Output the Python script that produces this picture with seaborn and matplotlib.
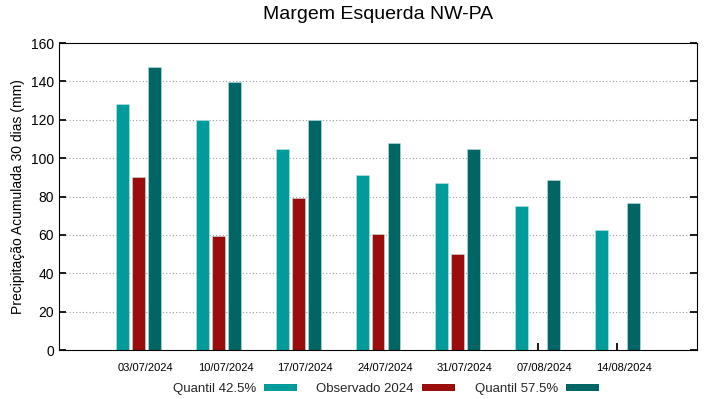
import numpy as np
import pandas as pd
import matplotlib
import matplotlib.pyplot as plt
import matplotlib.transforms as mtransforms
import seaborn as sns

matplotlib.use('Agg')

# dados
datas = ['03/07/2024', '10/07/2024', '17/07/2024', '24/07/2024',
         '31/07/2024', '07/08/2024', '14/08/2024']
quantil_425 = [128, 120, 104.5, 91, 87, 75, 62.5]
observado = [90, 59.5, 79, 60.5, 50, np.nan, np.nan]
quantil_575 = [147.5, 139.5, 120, 108, 105, 88.5, 76.5]

series = ['Quantil 42.5%', 'Observado 2024', 'Quantil 57.5%']
cores = ['#009c9c', '#9b0c0c', '#006565']

df = pd.DataFrame({
    'data': datas * 3,
    'serie': [series[0]] * 7 + [series[1]] * 7 + [series[2]] * 7,
    'valor': quantil_425 + observado + quantil_575,
})

sns.set_theme(style='white')
plt.rcParams['font.family'] = ['Liberation Sans', 'DejaVu Sans']

fig = plt.figure(figsize=(7.19, 3.99), dpi=100)
ax = fig.add_axes([0.0821, 0.1228, 0.8873, 0.7694])

sns.barplot(data=df, x='data', y='valor', hue='serie', order=datas,
            hue_order=series, palette=cores, width=0.6, gap=0.19,
            saturation=1, edgecolor='#bfe3e3', linewidth=0.4, ax=ax)

ax.set_xlim(-1, 7)
ax.set_ylim(0, 160)
ax.set_yticks(np.arange(0, 161, 20))
ax.set_xlabel('')
ax.set_ylabel('Precipitação Acumulada 30 dias (mm)', fontsize=10, color='black')
ax.set_title('Margem Esquerda NW-PA', fontsize=14, pad=17, color='black')

for y in range(20, 160, 20):
    ax.axhline(y, color='#a0a0a0', linestyle=(0, (1, 2)), linewidth=0.8, zorder=0)

for s in ax.spines.values():
    s.set_visible(True)
    s.set_color('black')
    s.set_linewidth(0.8)

ax.tick_params(axis='y', direction='in', right=True, left=True, length=5,
               labelsize=10, labelcolor='black', color='black')
ax.tick_params(axis='x', direction='in', bottom=True, length=5, labelsize=8,
               labelcolor='black', color='black', pad=9)

# rotulos do eixo x levemente deslocados para a direita
desloc = mtransforms.ScaledTranslation(7 / 100, 0, fig.dpi_scale_trans)
for lbl in ax.get_xticklabels():
    lbl.set_transform(lbl.get_transform() + desloc)

leg = ax.legend(loc='center', bbox_to_anchor=(0.512, -0.127), ncol=3,
                frameon=False, markerfirst=False, fontsize=9.5,
                handlelength=2.5, handleheight=0.5, columnspacing=1.5,
                handletextpad=0.6)
for h in leg.legend_handles:
    h.set_edgecolor('none')

fig.savefig('out.png', dpi=100)
